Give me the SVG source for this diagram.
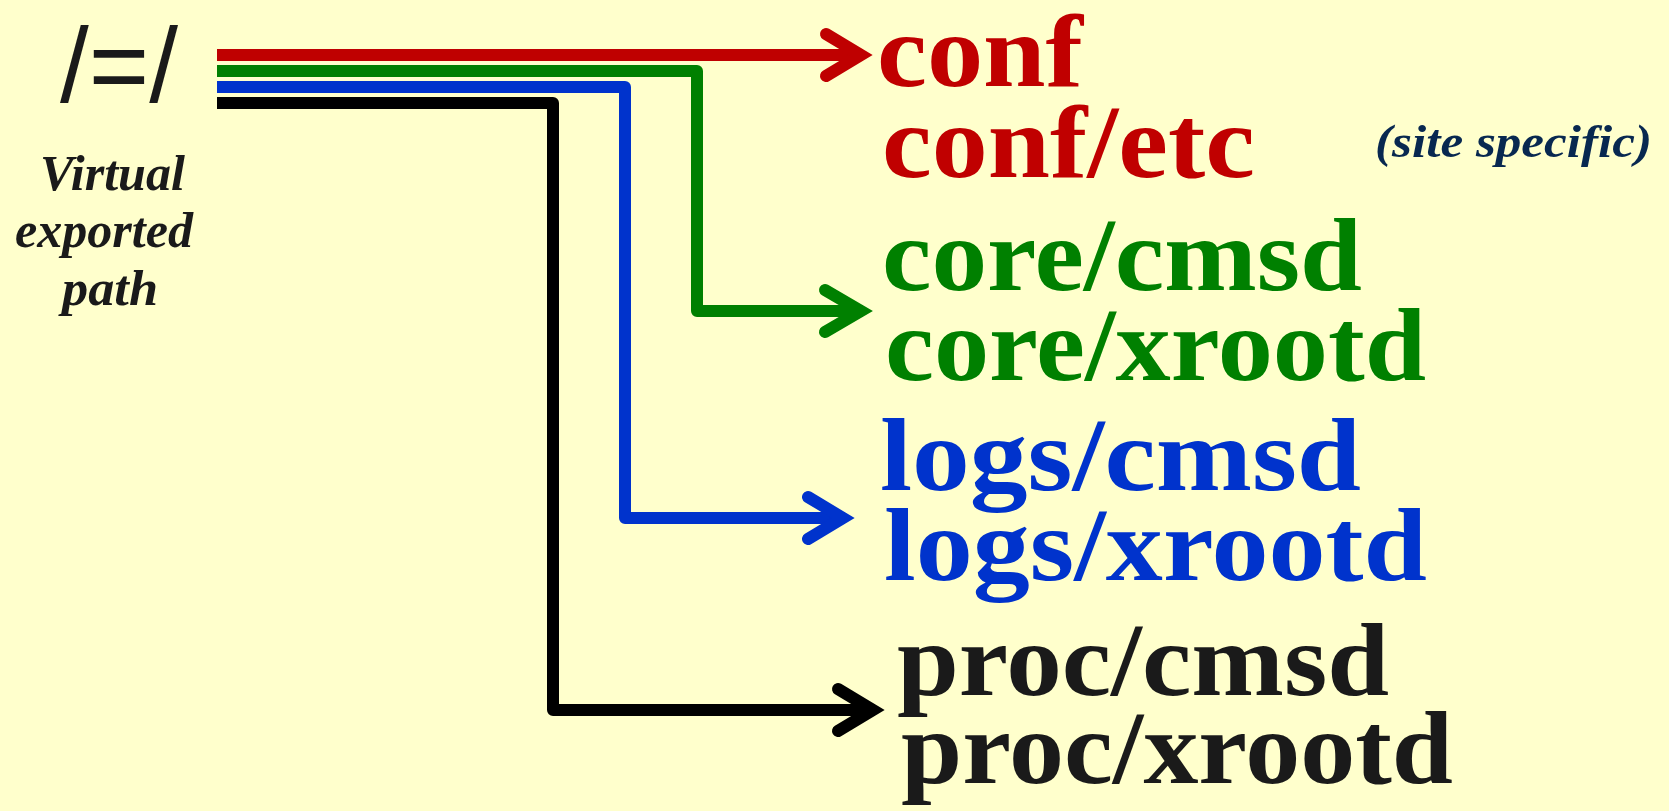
<svg xmlns="http://www.w3.org/2000/svg" width="1669" height="811" viewBox="0 0 1669 811">
<style>
.bg{fill:#ffffcc}
.ln{fill:none;stroke-width:12;stroke-linejoin:round;stroke-linecap:butt}
.ah{fill:none;stroke-width:12;stroke-linejoin:miter;stroke-miterlimit:10;stroke-linecap:round}
.big{font-family:"Liberation Serif","Times New Roman",serif;font-weight:bold;font-size:104px}
.lbl{font-family:"Liberation Serif","Times New Roman",serif;font-weight:bold;font-style:italic;font-size:50px;fill:#1a1a1a}
</style>
<rect class="bg" x="0" y="0" width="1669" height="811"/>
<g id="root">
<text x="60" y="102" font-family="Liberation Sans, Arial, sans-serif" font-size="106" fill="#1a1a1a" textLength="118" lengthAdjust="spacingAndGlyphs">/=/</text>
<text class="lbl" x="40" y="190" textLength="145" lengthAdjust="spacingAndGlyphs">Virtual</text>
<text class="lbl" x="15" y="247" textLength="178" lengthAdjust="spacingAndGlyphs">exported</text>
<text class="lbl" x="62" y="305" textLength="96" lengthAdjust="spacingAndGlyphs">path</text>
</g>
<g id="connectors">
<path class="ln" stroke="#bf0000" d="M217,55 H861"/>
<polyline class="ah" stroke="#bf0000" points="826,34 861,55 826,76"/>
<path class="ln" stroke="#008000" d="M217,71 H697 V311 H861"/>
<polyline class="ah" stroke="#008000" points="825,290 861,311 825,332"/>
<path class="ln" stroke="#0033cc" d="M217,87 H625 V518 H843"/>
<polyline class="ah" stroke="#0033cc" points="808,497 843,518 808,539"/>
<path class="ln" stroke="#000000" d="M217,103 H553 V710 H873"/>
<polyline class="ah" stroke="#000000" points="838,689 873,710 838,731"/>
</g>
<g id="conf" fill="#c00000">
<text class="big" x="877" y="86" textLength="206" lengthAdjust="spacingAndGlyphs">conf</text>
<text class="big" x="882" y="177" textLength="373" lengthAdjust="spacingAndGlyphs">conf/etc</text>
</g>
<g id="core" fill="#008000">
<text class="big" x="882" y="290" textLength="480" lengthAdjust="spacingAndGlyphs">core/cmsd</text>
<text class="big" x="885" y="380" textLength="541" lengthAdjust="spacingAndGlyphs">core/xrootd</text>
</g>
<g id="logs" fill="#0033cc">
<text class="big" x="880" y="490" textLength="481" lengthAdjust="spacingAndGlyphs">logs/cmsd</text>
<text class="big" x="884" y="580" textLength="543" lengthAdjust="spacingAndGlyphs">logs/xrootd</text>
</g>
<g id="proc" fill="#1a1a1a">
<text class="big" x="897" y="695" textLength="492" lengthAdjust="spacingAndGlyphs">proc/cmsd</text>
<text class="big" x="901" y="783" textLength="552" lengthAdjust="spacingAndGlyphs">proc/xrootd</text>
</g>
<g id="site">
<text x="1375" y="157" font-family="Liberation Serif, serif" font-weight="bold" font-style="italic" font-size="46" fill="#082850" textLength="277" lengthAdjust="spacingAndGlyphs">(site specific)</text>
</g>
</svg>
